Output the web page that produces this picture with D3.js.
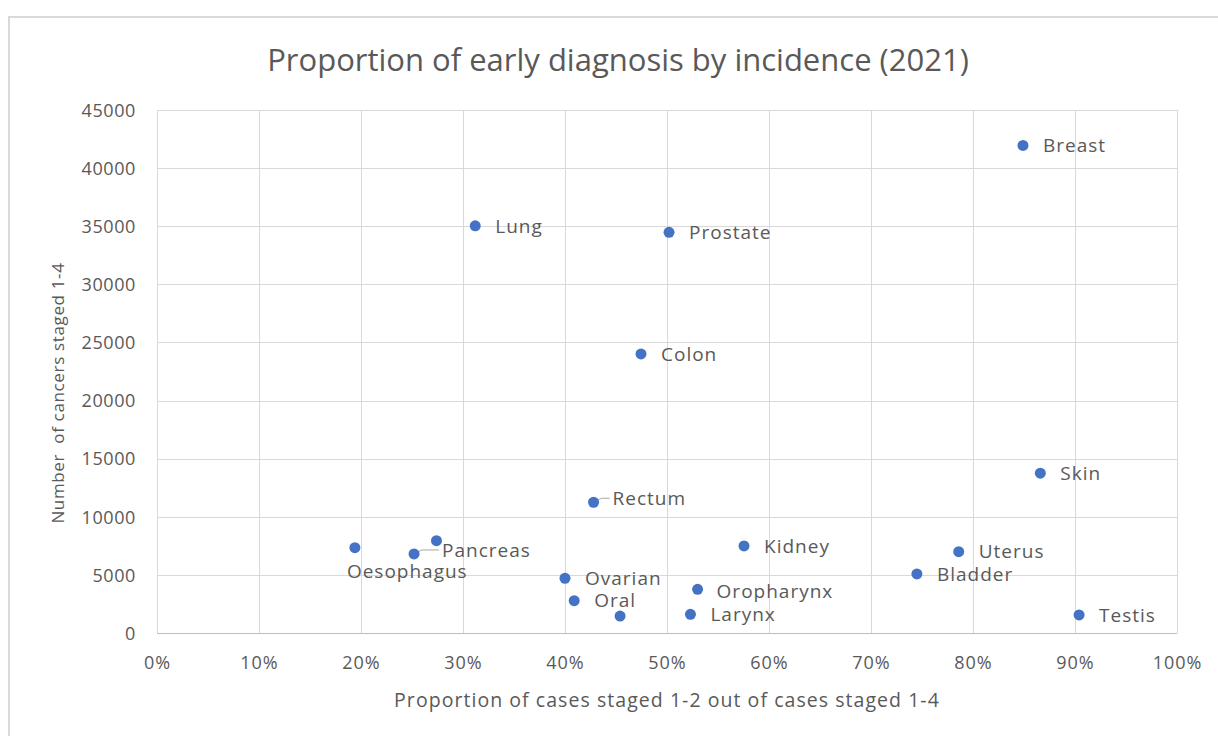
<!DOCTYPE html>
<html>
<head>
<meta charset="utf-8">
<script src="https://cdn.jsdelivr.net/npm/d3@7"></script>
<style>
  html, body { margin: 0; padding: 0; background: #fff; }
  svg { display: block; }
  text { font-family: "Open Sans", "Noto Sans", sans-serif; fill: #595959; }
</style>
</head>
<body>
<svg id="chart" width="1218" height="736"></svg>
<script>
// ---- data ----
const names = ["Breast", "Lung", "Prostate", "Colon", "Skin", "Rectum", "Oesophagus", "Pancreas", "", "Kidney", "Uterus", "Ovarian", "Bladder", "Oropharynx", "Oral", "", "Larynx", "Testis"];
const proportionEarly = [0.849, 0.312, 0.502, 0.4745, 0.866, 0.428, 0.194, 0.252, 0.274, 0.5755, 0.786, 0.400, 0.745, 0.530, 0.409, 0.454, 0.523, 0.904];
const casesStaged = [41950, 35030, 34480, 24010, 13750, 11250, 7340, 6800, 7940, 7490, 7000, 4710, 5080, 3760, 2780, 1460, 1610, 1550];
const xTicks = [0, 0.1, 0.2, 0.3, 0.4, 0.5, 0.6, 0.7, 0.8, 0.9, 1.0];
const yTicks = [0, 5000, 10000, 15000, 20000, 25000, 30000, 35000, 40000, 45000];
const title = "Proportion of early diagnosis by incidence (2021)";
const xTitle = "Proportion of cases staged 1-2 out of cases staged 1-4";
const yTitle = "Number  of cancers staged 1-4";

// label placement tweaks (presentation only)
const labelPlacement = {
  "Oesophagus": { dx: -8, dy: 24 },
  "Pancreas": { dx: 28, dy: -4, leader: true },
  "Rectum": { dx: 19, dy: -4, leader: true },
  "Oropharynx": { dx: 19, dy: 2 }
};

// ---- layout ----
const svg = d3.select("#chart");
const plot = { left: 157, right: 1177, top: 110, bottom: 633 };

const x = d3.scaleLinear().domain([0, 1]).range([plot.left, plot.right]);
const y = d3.scaleLinear().domain([0, 45000]).range([plot.bottom, plot.top]);

// chart border
svg.append("rect")
  .attr("x", 9).attr("y", 17).attr("width", 1230).attr("height", 740)
  .attr("fill", "none").attr("stroke", "#d9d9d9").attr("stroke-width", 2);

// gridlines
svg.append("g").selectAll("line.h").data(yTicks).join("line")
  .attr("x1", plot.left).attr("x2", plot.right)
  .attr("y1", d => Math.round(y(d)) + 0.5).attr("y2", d => Math.round(y(d)) + 0.5)
  .attr("stroke", "#d9d9d9").attr("stroke-width", 1);
svg.append("g").selectAll("line.v").data(xTicks).join("line")
  .attr("y1", plot.top).attr("y2", plot.bottom)
  .attr("x1", d => Math.round(x(d)) + 0.5).attr("x2", d => Math.round(x(d)) + 0.5)
  .attr("stroke", "#d9d9d9").attr("stroke-width", 1);

// axes (labels via d3 axes, lines hidden)
const xAxis = d3.axisBottom(x).tickValues(xTicks).tickFormat(d3.format(".0%")).tickSize(0).tickPadding(0);
const gx = svg.append("g").attr("transform", `translate(0,${plot.bottom})`).call(xAxis);
gx.select(".domain").remove();
gx.selectAll("text").attr("y", 36).attr("dy", 0)
  .style("font-size", "18px").style("letter-spacing", "1px")
  .style("font-family", "'Open Sans', sans-serif").attr("fill", "#595959");

const yAxis = d3.axisLeft(y).tickValues(yTicks).tickFormat(d3.format("d")).tickSize(0).tickPadding(0);
const gy = svg.append("g").attr("transform", `translate(${plot.left},0)`).call(yAxis);
gy.select(".domain").remove();
gy.selectAll("text").attr("x", -21).attr("dy", "0.35em")
  .style("font-size", "18px").style("letter-spacing", "0.6px")
  .style("font-family", "'Open Sans', sans-serif").attr("fill", "#595959");

// bottom axis line
svg.append("line").attr("x1", plot.left).attr("x2", plot.right)
  .attr("y1", plot.bottom + 0.5).attr("y2", plot.bottom + 0.5)
  .attr("stroke", "#bfbfbf").attr("stroke-width", 1);

// titles
svg.append("text").attr("x", 618).attr("y", 71).attr("text-anchor", "middle")
  .style("font-size", "31px").text(title);
svg.append("text").attr("x", (plot.left + plot.right) / 2).attr("y", 707).attr("text-anchor", "middle")
  .style("font-size", "19.5px").style("letter-spacing", "1.05px").text(xTitle);
svg.append("text").attr("transform", `translate(64,393) rotate(-90)`)
  .attr("text-anchor", "middle").style("font-size", "17px").style("letter-spacing", "0.65px")
  .style("white-space", "pre").text(yTitle);

// data
const points = names.map((n, i) => ({ name: n, px: proportionEarly[i], cy: casesStaged[i] }));

// leader lines
const gLabels = svg.append("g");
points.filter(p => p.name && labelPlacement[p.name] && labelPlacement[p.name].leader).forEach(p => {
  const lp = labelPlacement[p.name];
  const x0 = x(p.px), y0 = y(p.cy);
  const tx = x0 + lp.dx - 3, ty = y0 + lp.dy;
  gLabels.append("polyline")
    .attr("points", `${x0},${y0} ${x0 + 8},${ty} ${tx},${ty}`)
    .attr("fill", "none").attr("stroke", "#a6a6a6").attr("stroke-width", 1);
});

svg.append("g").selectAll("circle").data(points).join("circle")
  .attr("cx", d => x(d.px)).attr("cy", d => y(d.cy)).attr("r", 5.5)
  .attr("fill", "#4472c4");

gLabels.selectAll("text").data(points.filter(p => p.name)).join("text")
  .attr("x", d => x(d.px) + ((labelPlacement[d.name] || {}).dx ?? 20))
  .attr("y", d => y(d.cy) + ((labelPlacement[d.name] || {}).dy ?? 0))
  .attr("dy", "0.35em")
  .style("font-size", "19px").style("letter-spacing", "1px")
  .text(d => d.name);
</script>
</body>
</html>
